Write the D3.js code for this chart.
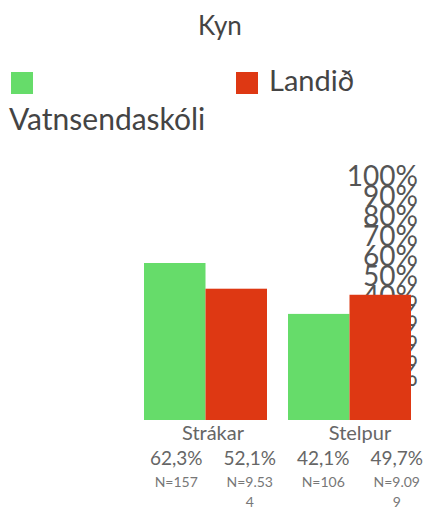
<!DOCTYPE html>
<html lang="is">
<head>
  <meta charset="UTF-8">
  <script src="https://d3js.org/d3.v7.min.js"></script>
  <style>
    body { margin: 0; background: #fff; font-family: Lato, "Open Sans", sans-serif; }
    .tick text { fill: #555; }
  </style>
</head>
<body>
<script>
// data
const categories = ["Strákar", "Stelpur"];
const series = ["Vatnsendaskóli", "Landið"];
const colors = ["#66dc6a", "#de3813"];
const schoolValues = [62.3, 42.1];
const nationValues = [52.1, 49.7];
const schoolN = ["157", "106"];
const nationN = ["9.534", "9.099"];
const tickValues = [0, 10, 20, 30, 40, 50, 60, 70, 80, 90, 100];

const W = 426, H = 508;
const fmt = v => d3.format(".1f")(v).replace(".", ",") + "%";

const svg = d3.select("body").append("svg")
  .attr("width", W)
  .attr("height", H);

// title
svg.append("text")
  .attr("x", 220)
  .attr("y", 35)
  .attr("text-anchor", "middle")
  .attr("font-size", 26)
  .attr("fill", "#444")
  .text("Kyn");

// legend
const legendX = [11, 236];
series.forEach((s, i) => {
  svg.append("rect")
    .attr("x", legendX[i]).attr("y", 72)
    .attr("width", 22).attr("height", 22)
    .attr("fill", colors[i]);
});
svg.append("text")
  .attr("x", 9).attr("y", 130)
  .attr("font-size", 30).attr("fill", "#444")
  .text(series[0]);
svg.append("text")
  .attr("x", 269).attr("y", 91)
  .attr("font-size", 29).attr("fill", "#444")
  .text(series[1]);

// scales
const x0 = d3.scaleBand().domain(categories).range([144, 411]).paddingInner(21 / 144);
const x1 = d3.scaleBand().domain(series).range([0, x0.bandwidth()]);
const y = d3.scaleLinear().domain([0, 100]).range([420, 168]);
// the value axis labels sit squeezed at the right, behind the bars
const yAxisScale = d3.scaleLinear().domain([0, 100]).range([377, 177]);

svg.append("g")
  .attr("transform", "translate(418,0)")
  .call(d3.axisLeft(yAxisScale).tickValues(tickValues).tickSize(0).tickPadding(0).tickFormat(d => d + "%"))
  .call(g => g.select(".domain").remove())
  .selectAll("text")
  .attr("font-size", 28)
  .attr("font-family", "Lato, sans-serif");

// bars
const rows = categories.map((c, i) => ({ cat: c, vals: [schoolValues[i], nationValues[i]] }));
const groups = svg.selectAll(".grp")
  .data(rows)
  .enter().append("g")
  .attr("class", "grp")
  .attr("transform", d => `translate(${x0(d.cat)},0)`);

groups.selectAll("rect")
  .data(d => d.vals.map((v, j) => ({ s: series[j], v: v, j: j })))
  .enter().append("rect")
  .attr("x", d => x1(d.s))
  .attr("y", d => y(d.v))
  .attr("width", x1.bandwidth())
  .attr("height", d => y(0) - y(d.v))
  .attr("fill", d => colors[d.j]);

// table below the bars
const cols = [];
categories.forEach((c, i) => {
  cols.push({ cat: c, v: schoolValues[i], n: schoolN[i] });
  cols.push({ cat: c, v: nationValues[i], n: nationN[i] });
});
const colScale = d3.scaleBand().domain(d3.range(cols.length)).range([139.5, 433.5]);

categories.forEach((c, i) => {
  svg.append("text")
    .attr("x", colScale(i * 2) + colScale.bandwidth())
    .attr("y", 440)
    .attr("text-anchor", "middle")
    .attr("font-size", 20)
    .attr("fill", "#666")
    .text(c);
});

cols.forEach((d, i) => {
  const cx = colScale(i) + colScale.bandwidth() / 2;
  svg.append("text")
    .attr("x", cx).attr("y", 465)
    .attr("text-anchor", "middle")
    .attr("font-size", 19)
    .attr("fill", "#666")
    .text(fmt(d.v));

  // wrap N label by characters when it gets too wide
  const t = svg.append("text")
    .attr("x", cx).attr("y", 487)
    .attr("text-anchor", "middle")
    .attr("font-size", 14)
    .attr("fill", "#777");
  const full = "N=" + d.n;
  let line = "", lines = [];
  for (const ch of full) {
    t.text(line + ch);
    if (t.node().getComputedTextLength() > 50 && line.length) {
      lines.push(line);
      line = ch;
    } else {
      line += ch;
    }
  }
  lines.push(line);
  t.text(null);
  lines.forEach((l, k) => {
    t.append("tspan").attr("x", cx).attr("dy", k ? 20 : 0).text(l);
  });
});
</script>
</body>
</html>
